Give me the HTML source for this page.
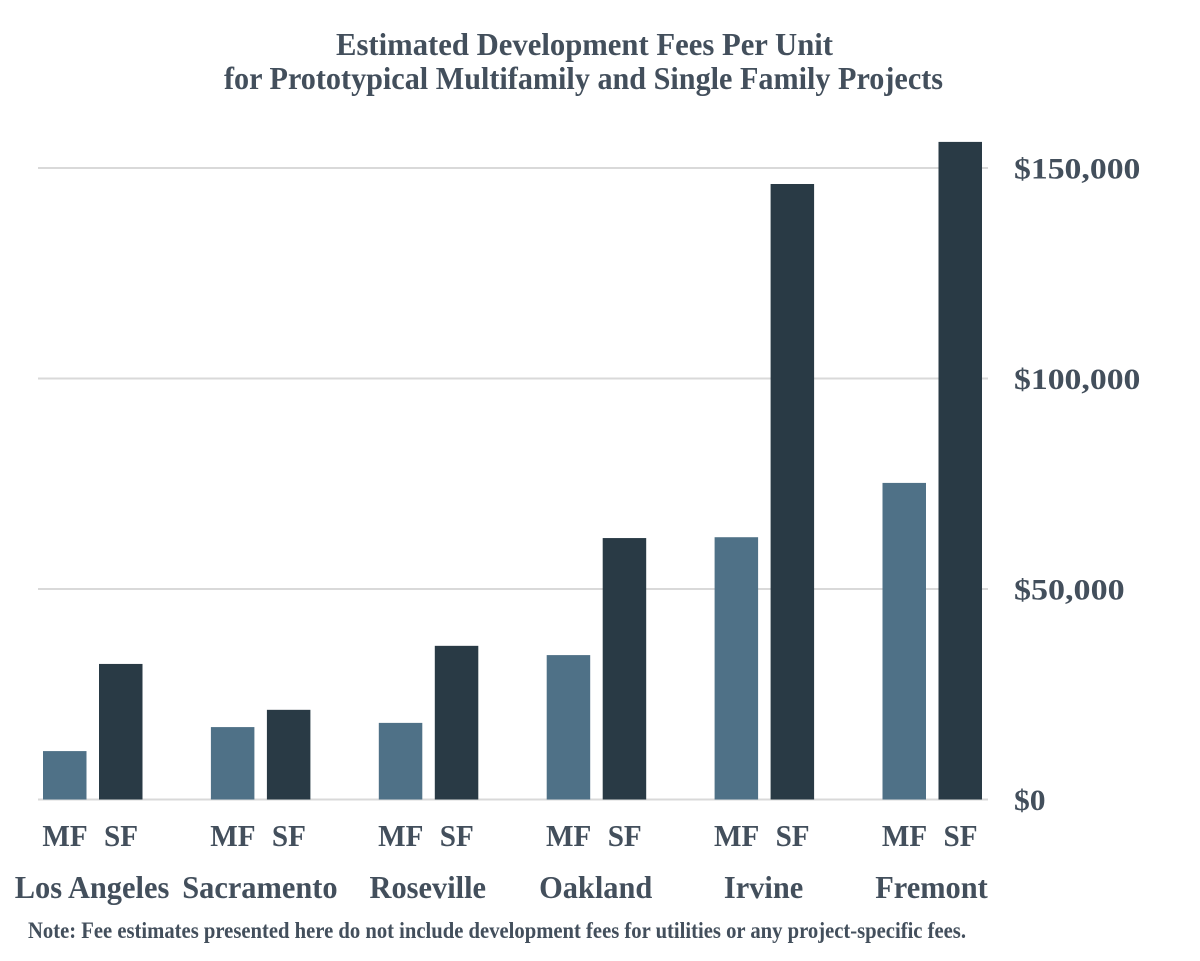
<!DOCTYPE html>
<html lang="en">
<head>
<meta charset="utf-8">
<title>Estimated Development Fees Per Unit</title>
<style>
  html, body { margin: 0; padding: 0; background: #ffffff; }
  svg { display: block; }
  text { font-family: "Liberation Serif", serif; font-weight: 700; fill: #434f5c; }
</style>
</head>
<body>
<svg id="chart" xmlns="http://www.w3.org/2000/svg" width="1200" height="961" viewBox="0 0 1200 961">
  <text x="336" y="55" font-size="32" textLength="497" lengthAdjust="spacingAndGlyphs">Estimated Development Fees Per Unit</text>
  <text x="224" y="89" font-size="32" textLength="719" lengthAdjust="spacingAndGlyphs">for Prototypical Multifamily and Single Family Projects</text>
  <g id="grid"></g>
  <g id="bars"></g>
  <g id="ticks"></g>
  <g id="labels"></g>
  <text x="28" y="938" font-size="23" textLength="938" lengthAdjust="spacingAndGlyphs">Note: Fee estimates presented here do not include development fees for utilities or any project-specific fees.</text>
</svg>
<script>
const categories = ["Los Angeles", "Sacramento", "Roseville", "Oakland", "Irvine", "Fremont"];
const multifamilyFees = [11500, 17200, 18200, 34300, 62300, 75200];
const singleFamilyFees = [32200, 21300, 36500, 62100, 146200, 156200];
const tickValues = [0, 50000, 100000, 150000];
const tickLabels = ["$0", "$50,000", "$100,000", "$150,000"];

const NS = "http://www.w3.org/2000/svg";
const plot = { baseline: 799.5, pxPerDollar: 631.5 / 150000, firstCenter: 93, step: 167.9, barWidth: 43.5 };

function yScale(value) {
  return plot.baseline - value * plot.pxPerDollar;
}
function groupCenter(index) {
  return plot.firstCenter + index * plot.step;
}
function slug(str) {
  return str.toLowerCase().replace(/\s+/g, "-");
}

const gridGroup = document.getElementById("grid");
const barGroup = document.getElementById("bars");
const tickGroup = document.getElementById("ticks");
const labelGroup = document.getElementById("labels");

tickValues.forEach(function (value, i) {
  const line = document.createElementNS(NS, "line");
  line.setAttribute("x1", 38);
  line.setAttribute("x2", 988);
  line.setAttribute("y1", yScale(value));
  line.setAttribute("y2", yScale(value));
  line.setAttribute("stroke", "#d9d9d9");
  line.setAttribute("stroke-width", 2);
  
  
  gridGroup.appendChild(line);

  const tick = document.createElementNS(NS, "text");
  tick.setAttribute("x", 1014);
  tick.setAttribute("y", yScale(value) + 10.5);
  tick.setAttribute("font-size", 30);
  tick.setAttribute("textLength", tickLabels[i].length * 15.8);
  tick.setAttribute("lengthAdjust", "spacingAndGlyphs");
  tick.textContent = tickLabels[i];
  
  
  tickGroup.appendChild(tick);
});

function addBar(value, x, fill, name) {
  const rect = document.createElementNS(NS, "rect");
  rect.setAttribute("x", x);
  rect.setAttribute("y", yScale(value));
  rect.setAttribute("width", plot.barWidth);
  rect.setAttribute("height", plot.baseline - yScale(value));
  rect.setAttribute("fill", fill);
  
  
  barGroup.appendChild(rect);
}

function addLabel(content, x, y, size, squeeze, name) {
  const label = document.createElementNS(NS, "text");
  label.setAttribute("x", x);
  label.setAttribute("y", y);
  label.setAttribute("font-size", size);
  label.setAttribute("text-anchor", "middle");
  label.textContent = content;
  
  
  labelGroup.appendChild(label);
  label.setAttribute("textLength", label.getComputedTextLength() * squeeze);
  label.setAttribute("lengthAdjust", "spacingAndGlyphs");
}

categories.forEach(function (category, i) {
  const center = groupCenter(i);
  addBar(multifamilyFees[i], center - 50, "#4f7187", "bar-mf-" + slug(category));
  addBar(singleFamilyFees[i], center + 6, "#293a45", "bar-sf-" + slug(category));
  addLabel("MF", center - 28, 846, 31, 0.94, "mf-label");
  addLabel("SF", center + 28, 846, 31, 0.94, "sf-label");
  addLabel(category, center - 1, 898, 32, 0.95, "city-label-" + slug(category));
});
</script>
</body>
</html>
